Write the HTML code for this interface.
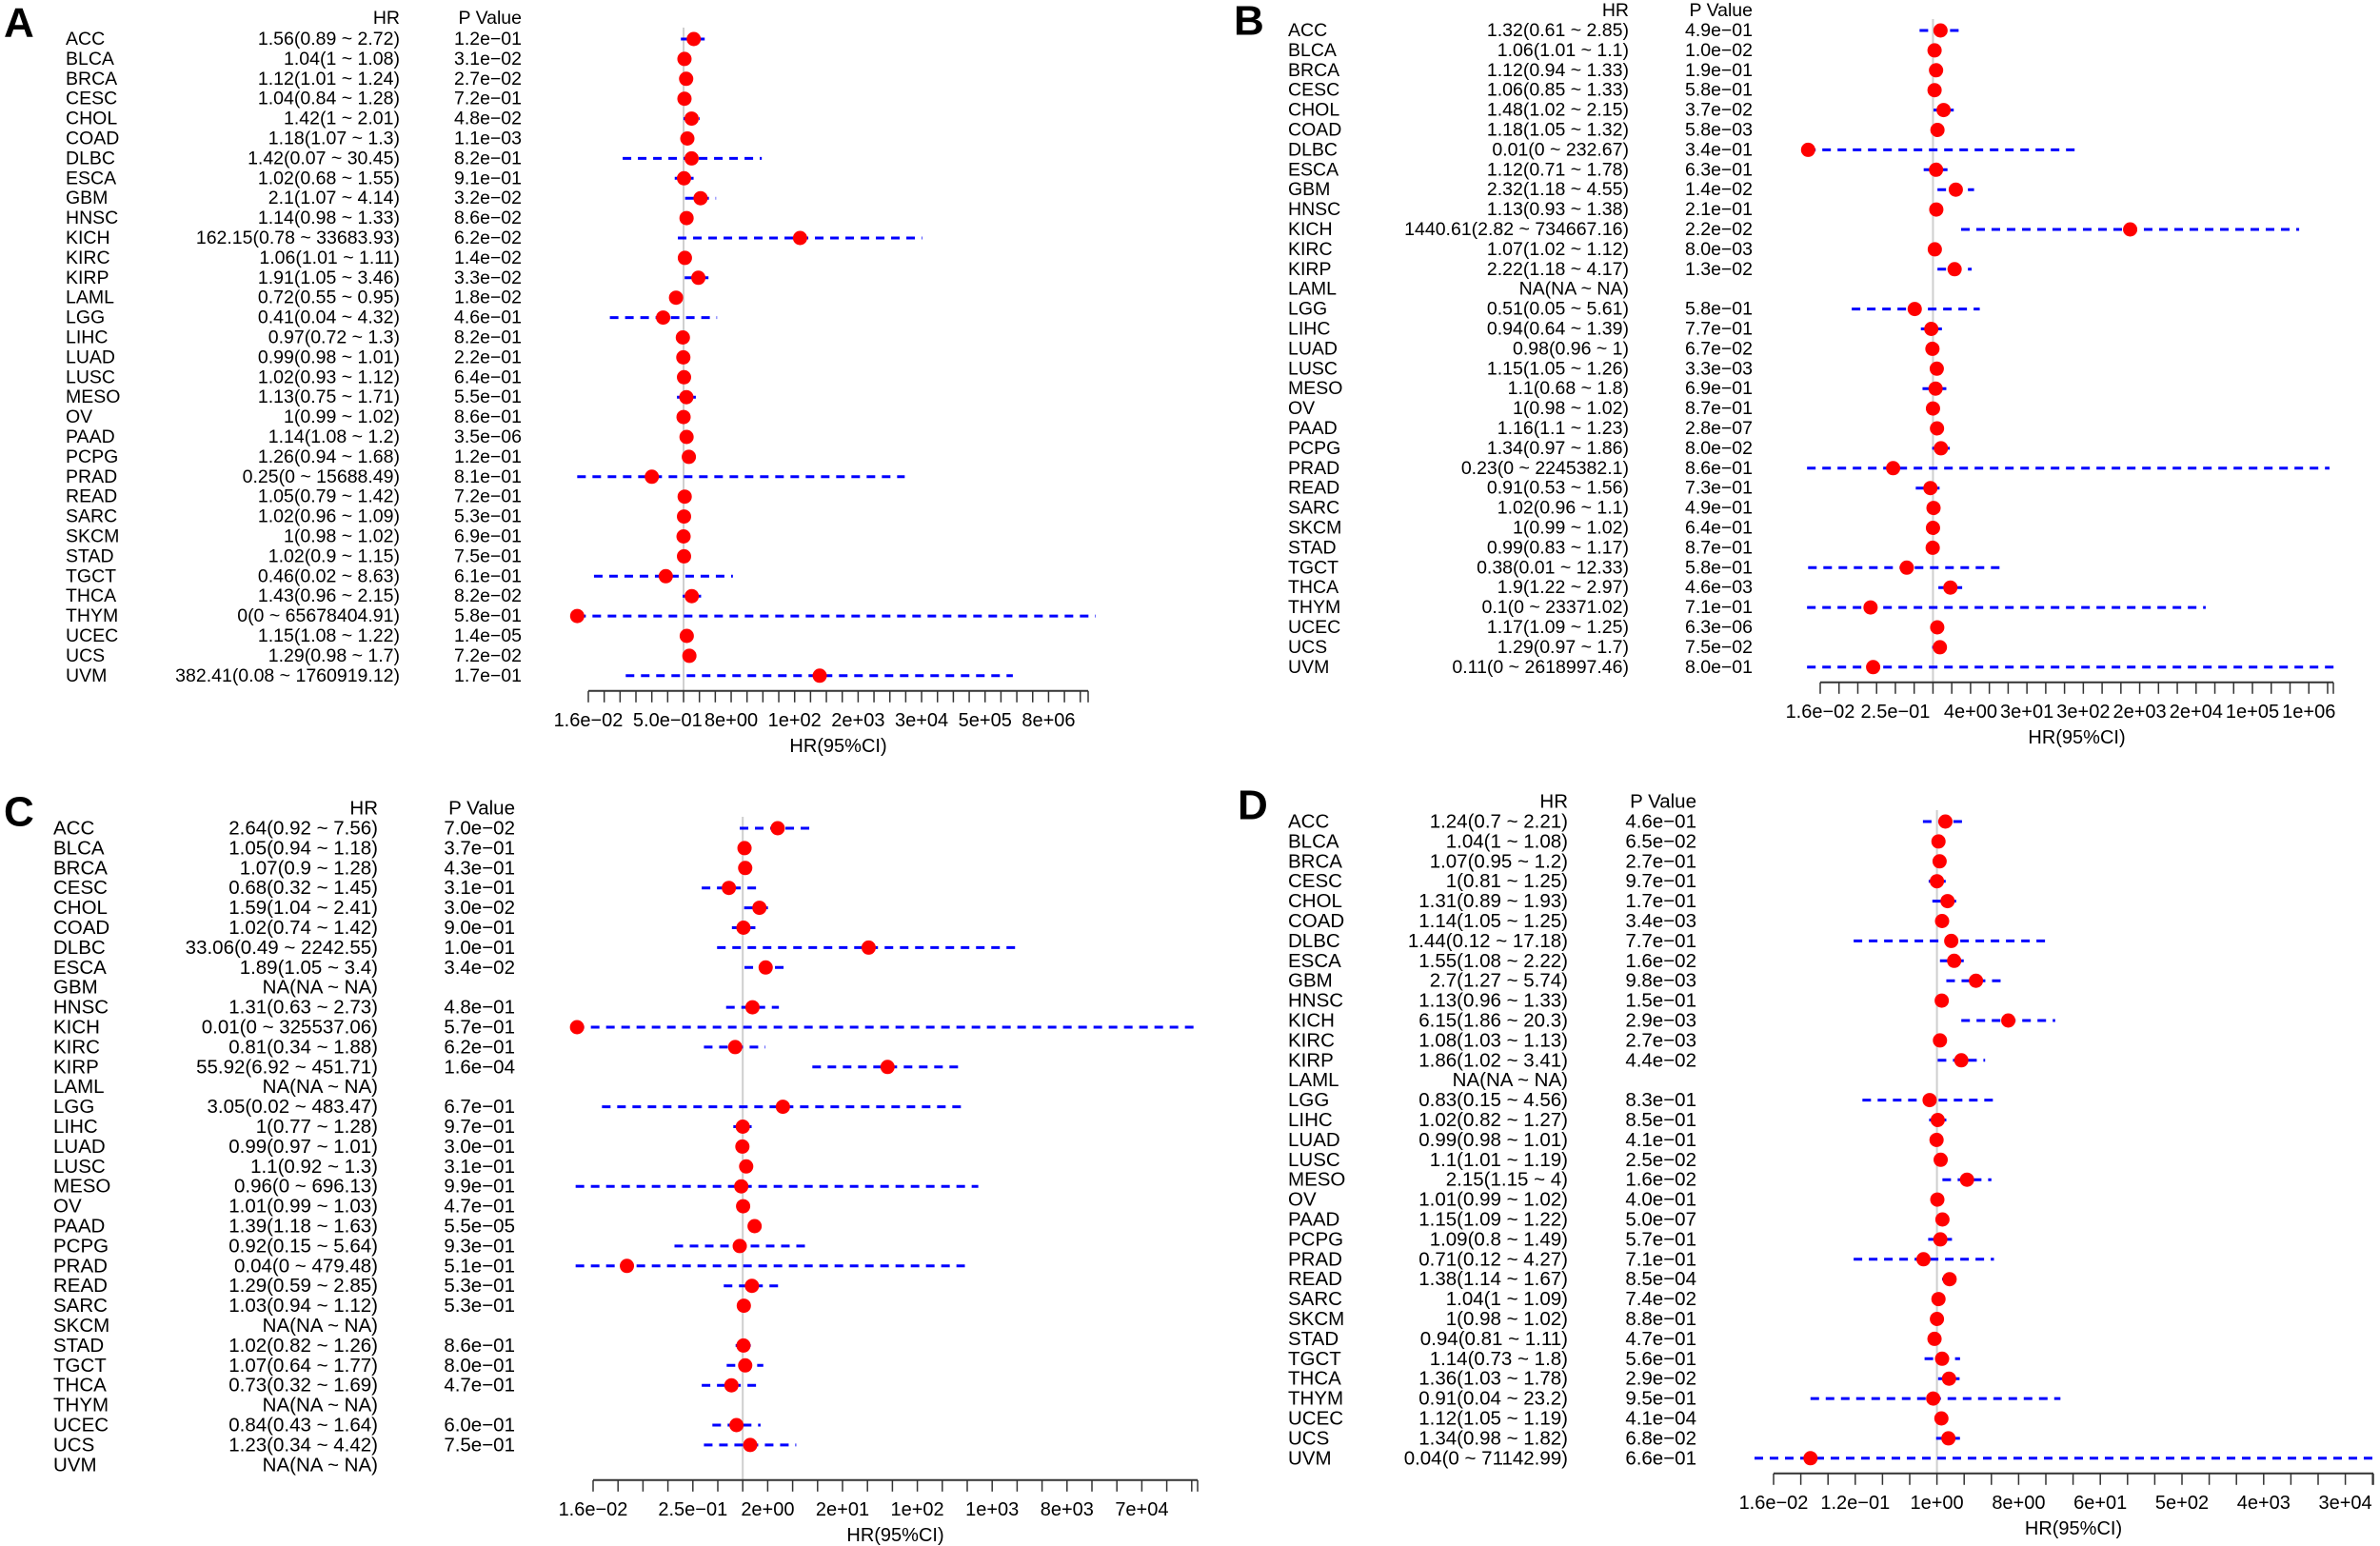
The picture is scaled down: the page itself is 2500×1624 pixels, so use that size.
<!DOCTYPE html>
<html><head><meta charset="utf-8">
<style>
html,body{margin:0;padding:0;background:#fff;}
svg{display:block;font-family:"Liberation Sans",Arial,sans-serif;}
</style></head>
<body>
<svg id="fig" width="2500" height="1624" viewBox="0 0 2500 1624" xmlns="http://www.w3.org/2000/svg"></svg>
<script>
const cancers = ["ACC","BLCA","BRCA","CESC","CHOL","COAD","DLBC","ESCA","GBM","HNSC","KICH","KIRC","KIRP","LAML","LGG","LIHC","LUAD","LUSC","MESO","OV","PAAD","PCPG","PRAD","READ","SARC","SKCM","STAD","TGCT","THCA","THYM","UCEC","UCS","UVM"];

const hrA = [1.56,1.04,1.12,1.04,1.42,1.18,1.42,1.02,2.1,1.14,162.15,1.06,1.91,0.72,0.41,0.97,0.99,1.02,1.13,1,1.14,1.26,0.25,1.05,1.02,1,1.02,0.46,1.43,0,1.15,1.29,382.41];
const loA = [0.89,1,1.01,0.84,1,1.07,0.07,0.68,1.07,0.98,0.78,1.01,1.05,0.55,0.04,0.72,0.98,0.93,0.75,0.99,1.08,0.94,0,0.79,0.96,0.98,0.9,0.02,0.96,0,1.08,0.98,0.08];
const hiA = [2.72,1.08,1.24,1.28,2.01,1.3,30.45,1.55,4.14,1.33,33683.93,1.11,3.46,0.95,4.32,1.3,1.01,1.12,1.71,1.02,1.2,1.68,15688.49,1.42,1.09,1.02,1.15,8.63,2.15,65678404.91,1.22,1.7,1760919.12];
const pA = ["1.2e-01","3.1e-02","2.7e-02","7.2e-01","4.8e-02","1.1e-03","8.2e-01","9.1e-01","3.2e-02","8.6e-02","6.2e-02","1.4e-02","3.3e-02","1.8e-02","4.6e-01","8.2e-01","2.2e-01","6.4e-01","5.5e-01","8.6e-01","3.5e-06","1.2e-01","8.1e-01","7.2e-01","5.3e-01","6.9e-01","7.5e-01","6.1e-01","8.2e-02","5.8e-01","1.4e-05","7.2e-02","1.7e-01"];
const tickPosA = [-6,-1,3,7,11,15,19,23];
const tickLabA = ["1.6e\u221202","5.0e\u221201","8e+00","1e+02","2e+03","3e+04","5e+05","8e+06"];

const hrB = [1.32,1.06,1.12,1.06,1.48,1.18,0.01,1.12,2.32,1.13,1440.61,1.07,2.22,null,0.51,0.94,0.98,1.15,1.1,1,1.16,1.34,0.23,0.91,1.02,1,0.99,0.38,1.9,0.1,1.17,1.29,0.11];
const loB = [0.61,1.01,0.94,0.85,1.02,1.05,0,0.71,1.18,0.93,2.82,1.02,1.18,null,0.05,0.64,0.96,1.05,0.68,0.98,1.1,0.97,0,0.53,0.96,0.99,0.83,0.01,1.22,0,1.09,0.97,0];
const hiB = [2.85,1.1,1.33,1.33,2.15,1.32,232.67,1.78,4.55,1.38,734667.16,1.12,4.17,null,5.61,1.39,1,1.26,1.8,1.02,1.23,1.86,2245382.1,1.56,1.1,1.02,1.17,12.33,2.97,23371.02,1.25,1.7,2618997.46];
const pB = ["4.9e-01","1.0e-02","1.9e-01","5.8e-01","3.7e-02","5.8e-03","3.4e-01","6.3e-01","1.4e-02","2.1e-01","2.2e-02","8.0e-03","1.3e-02","","5.8e-01","7.7e-01","6.7e-02","3.3e-03","6.9e-01","8.7e-01","2.8e-07","8.0e-02","8.6e-01","7.3e-01","4.9e-01","6.4e-01","8.7e-01","5.8e-01","4.6e-03","7.1e-01","6.3e-06","7.5e-02","8.0e-01"];
const tickPosB = [-6,-2,2,5,8,11,14,17,20];
const tickLabB = ["1.6e\u221202","2.5e\u221201","4e+00","3e+01","3e+02","2e+03","2e+04","1e+05","1e+06"];

const hrC = [2.64,1.05,1.07,0.68,1.59,1.02,33.06,1.89,null,1.31,0.01,0.81,55.92,null,3.05,1,0.99,1.1,0.96,1.01,1.39,0.92,0.04,1.29,1.03,null,1.02,1.07,0.73,null,0.84,1.23,null];
const loC = [0.92,0.94,0.9,0.32,1.04,0.74,0.49,1.05,null,0.63,0,0.34,6.92,null,0.02,0.77,0.97,0.92,0,0.99,1.18,0.15,0,0.59,0.94,null,0.82,0.64,0.32,null,0.43,0.34,null];
const hiC = [7.56,1.18,1.28,1.45,2.41,1.42,2242.55,3.4,null,2.73,325537.06,1.88,451.71,null,483.47,1.28,1.01,1.3,696.13,1.03,1.63,5.64,479.48,2.85,1.12,null,1.26,1.77,1.69,null,1.64,4.42,null];
const pC = ["7.0e-02","3.7e-01","4.3e-01","3.1e-01","3.0e-02","9.0e-01","1.0e-01","3.4e-02","","4.8e-01","5.7e-01","6.2e-01","1.6e-04","","6.7e-01","9.7e-01","3.0e-01","3.1e-01","9.9e-01","4.7e-01","5.5e-05","9.3e-01","5.1e-01","5.3e-01","5.3e-01","","8.6e-01","8.0e-01","4.7e-01","","6.0e-01","7.5e-01",""];
const tickPosC = [-6,-2,1,4,7,10,13,16];
const tickLabC = ["1.6e\u221202","2.5e\u221201","2e+00","2e+01","1e+02","1e+03","8e+03","7e+04"];

const hrD = [1.24,1.04,1.07,1,1.31,1.14,1.44,1.55,2.7,1.13,6.15,1.08,1.86,null,0.83,1.02,0.99,1.1,2.15,1.01,1.15,1.09,0.71,1.38,1.04,1,0.94,1.14,1.36,0.91,1.12,1.34,0.04];
const loD = [0.7,1,0.95,0.81,0.89,1.05,0.12,1.08,1.27,0.96,1.86,1.03,1.02,null,0.15,0.82,0.98,1.01,1.15,0.99,1.09,0.8,0.12,1.14,1,0.98,0.81,0.73,1.03,0.04,1.05,0.98,0];
const hiD = [2.21,1.08,1.2,1.25,1.93,1.25,17.18,2.22,5.74,1.33,20.3,1.13,3.41,null,4.56,1.27,1.01,1.19,4,1.02,1.22,1.49,4.27,1.67,1.09,1.02,1.11,1.8,1.78,23.2,1.19,1.82,71142.99];
const pD = ["4.6e-01","6.5e-02","2.7e-01","9.7e-01","1.7e-01","3.4e-03","7.7e-01","1.6e-02","9.8e-03","1.5e-01","2.9e-03","2.7e-03","4.4e-02","","8.3e-01","8.5e-01","4.1e-01","2.5e-02","1.6e-02","4.0e-01","5.0e-07","5.7e-01","7.1e-01","8.5e-04","7.4e-02","8.8e-01","4.7e-01","5.6e-01","2.9e-02","9.5e-01","4.1e-04","6.8e-02","6.6e-01"];
const tickPosD = [-6,-3,0,3,6,9,12,15];
const tickLabD = ["1.6e\u221202","1.2e\u221201","1e+00","8e+00","6e+01","5e+02","4e+03","3e+04"];

const NS = "http://www.w3.org/2000/svg";
const svg = document.getElementById("fig");
function mk(tag, attrs, parent, txt) {
  const e = document.createElementNS(NS, tag);
  for (const k in attrs) e.setAttribute(k, attrs[k]);
  if (txt !== undefined) e.textContent = txt;
  parent.appendChild(e);
  return e;
}
function fmtP(s){ return s.replace("-", "\u2212"); }

function drawPanel(cfg, hr, lo, hi, pv, tickPos, tickLab) {
  const g = mk("g", {}, svg);
  
  
  const letter = mk("text", {x: cfg.lx, y: cfg.ly, "font-size": 44, "font-weight": "bold", "dominant-baseline": "central", fill: "#000"}, g, cfg.id);
  
  
  const fs = cfg.fs;
  const h1 = mk("text", {x: cfg.hrR, y: cfg.hy, "font-size": fs, "text-anchor": "end", "dominant-baseline": "central"}, g, "HR");
  
  
  const h2 = mk("text", {x: cfg.pR, y: cfg.hy, "font-size": fs, "text-anchor": "end", "dominant-baseline": "central"}, g, "P Value");
  
  

  const sx = v => {
    const xmin = cfg.x0 - 0.7 * cfg.k;
    if (v <= 0) return xmin;
    return Math.max(xmin, cfg.x0 + (Math.log2(v) + 6) * cfg.k);
  };
  const rowY = i => cfg.y0 + i * cfg.dy;
  const lastY = rowY(cancers.length - 1);
  const axisY = lastY + 16;

  const ref = mk("line", {x1: sx(1), x2: sx(1), y1: cfg.y0 - 12, y2: axisY, stroke: "#cfcfcf", "stroke-width": 2}, g);
  
  

  cancers.forEach((c, i) => {
    const y = rowY(i);
    const t1 = mk("text", {x: cfg.nameX, y: y, "font-size": fs, "dominant-baseline": "central"}, g, c);
    
    
    const s = hr[i] === null ? "NA(NA ~ NA)" : String(hr[i]) + "(" + String(lo[i]) + " ~ " + String(hi[i]) + ")";
    const t2 = mk("text", {x: cfg.hrR, y: y, "font-size": fs, "text-anchor": "end", "dominant-baseline": "central"}, g, s);
    
    
    if (pv[i]) {
      const t3 = mk("text", {x: cfg.pR, y: y, "font-size": fs, "text-anchor": "end", "dominant-baseline": "central"}, g, fmtP(pv[i]));
      
      
    }
    if (hr[i] !== null) {
      const ci = mk("line", {x1: sx(lo[i]), x2: sx(hi[i]), y1: y, y2: y, stroke: "#0000ff", "stroke-width": 3, "stroke-dasharray": "9 7"}, g);
      
      
      const pt = mk("circle", {cx: sx(hr[i]), cy: y, r: 7.5, fill: "#ff0000"}, g);
      
      
    }
  });

  const ax = mk("line", {x1: cfg.x0, x2: cfg.xEnd, y1: axisY, y2: axisY, stroke: "#333", "stroke-width": 2}, g);
  
  
  for (let t = -6; cfg.x0 + (t + 6) * cfg.k <= cfg.xEnd + 1; t++) {
    const tx = cfg.x0 + (t + 6) * cfg.k;
    const tk = mk("line", {x1: tx, x2: tx, y1: axisY, y2: axisY + 12, stroke: "#333", "stroke-width": 1.5}, g);
    
    
  }
  const tkEnd = mk("line", {x1: cfg.xEnd, x2: cfg.xEnd, y1: axisY, y2: axisY + 12, stroke: "#333", "stroke-width": 1.5}, g);
  
  
  tickPos.forEach((p, j) => {
    const tl = mk("text", {x: cfg.x0 + (p + 6) * cfg.k, y: axisY + 31, "font-size": 20, "text-anchor": "middle", "dominant-baseline": "central"}, g, tickLab[j]);
    
    
  });
  const ttl = mk("text", {x: (cfg.x0 + cfg.xEnd) / 2, y: axisY + 58, "font-size": 20, "text-anchor": "middle", "dominant-baseline": "central"}, g, "HR(95%CI)");
  
  
}

drawPanel({id:"A", lx:4, ly:24, fs:19.5, hy:19, y0:41, dy:20.9, nameX:69, hrR:420, pR:548, x0:618, k:16.67, xEnd:1143}, hrA, loA, hiA, pA, tickPosA, tickLabA);
drawPanel({id:"B", lx:1296, ly:22, fs:19.5, hy:11, y0:32, dy:20.9, nameX:1353, hrR:1711, pR:1841, x0:1912, k:19.74, xEnd:2451}, hrB, loB, hiB, pB, tickPosB, tickLabB);
drawPanel({id:"C", lx:4, ly:853, fs:20.5, hy:849, y0:870, dy:20.9, nameX:56, hrR:397, pR:541, x0:623, k:26.2, xEnd:1258}, hrC, loC, hiC, pC, tickPosC, tickLabC);
drawPanel({id:"D", lx:1300, ly:846, fs:20.5, hy:842, y0:863, dy:20.9, nameX:1353, hrR:1647, pR:1782, x0:1863, k:28.6, xEnd:2493}, hrD, loD, hiD, pD, tickPosD, tickLabD);
</script>
</body></html>
